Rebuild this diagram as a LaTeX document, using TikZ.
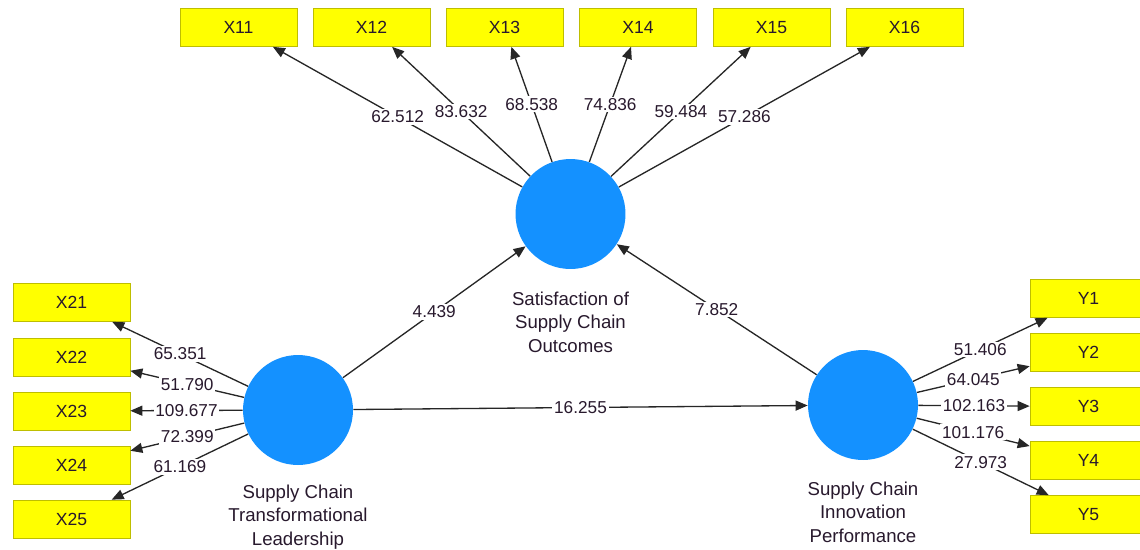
\documentclass[tikz,border=0pt]{standalone}
\usepackage{fontspec}
\setmainfont{Liberation Sans}
\usetikzlibrary{arrows.meta}
\definecolor{lvblue}{RGB}{20,145,255}
\definecolor{mvyellow}{RGB}{255,255,0}
\definecolor{mvedge}{RGB}{190,190,0}
\definecolor{txt}{RGB}{40,25,45}
\tikzset{
  lv/.style={circle, fill=lvblue, minimum size=2.2cm, inner sep=0pt},
  mv/.style={draw=mvedge, fill=mvyellow, minimum width=2.34cm, minimum height=0.76cm, inner sep=0pt, text=txt, font=\fontsize{10}{12}\selectfont},
  load/.style={draw=black!85, line width=0.75pt, -{Triangle[length=0.24cm,width=0.2cm]}},
  num/.style={fill=white, inner sep=1pt, text=txt, font=\fontsize{9.8}{12}\selectfont},
  lvname/.style={align=center, text=txt, font=\fontsize{10.6}{13.4}\selectfont}
}
\begin{document}
\begin{tikzpicture}[x=0.02cm, y=-0.02cm]
\clip (0,0) rectangle (1140,549);
\fill[white] (0,0) rectangle (1140,549);

% latent variables
\node[lv] (sat) at (570.5,214) {};
\node[lvname] (satname) at (570.5,322) {Satisfaction of\\Supply Chain\\Outcomes};
\node[lv] (lead) at (298,410) {};
\node[lvname] (leadname) at (298,517) {Supply Chain\\Transformational\\Leadership};
\node[lv] (innov) at (863,405) {};
\node[lvname] (innovname) at (863,512) {Supply Chain\\Innovation\\Performance};

% indicators
\node[mv] (x11) at (238.5,27.5) {X11};
\node[mv] (x12) at (371.5,27.5) {X12};
\node[mv] (x13) at (504.5,27.5) {X13};
\node[mv] (x14) at (638,27.5) {X14};
\node[mv] (x15) at (771.5,27.5) {X15};
\node[mv] (x16) at (904.5,27.5) {X16};

\node[mv] (x21) at (71.5,302.5) {X21};
\node[mv] (x22) at (71.5,357) {X22};
\node[mv] (x23) at (71.5,411) {X23};
\node[mv] (x24) at (71.5,465) {X24};
\node[mv] (x25) at (71.5,519) {X25};

\node[mv] (y1) at (1088.5,298.5) {Y1};
\node[mv] (y2) at (1088.5,352.5) {Y2};
\node[mv] (y3) at (1088.5,406.5) {Y3};
\node[mv] (y4) at (1088.5,460.5) {Y4};
\node[mv] (y5) at (1088.5,514.5) {Y5};

% loadings
\draw[load] (sat) -- node[num] {62.512} (x11);
\draw[load] (sat) -- node[num] {83.632} (x12);
\draw[load] (sat) -- node[num] {68.538} (x13);
\draw[load] (sat) -- node[num] {74.836} (x14);
\draw[load] (sat) -- node[num] {59.484} (x15);
\draw[load] (sat) -- node[num] {57.286} (x16);

\draw[load] (lead) -- node[num] {65.351} (x21);
\draw[load] (lead) -- node[num] {51.790} (x22);
\draw[load] (lead) -- node[num] {109.677} (x23);
\draw[load] (lead) -- node[num] {72.399} (x24);
\draw[load] (lead) -- node[num] {61.169} (x25);

\draw[load] (innov) -- node[num] {51.406} (y1);
\draw[load] (innov) -- node[num] {64.045} (y2);
\draw[load] (innov) -- node[num] {102.163} (y3);
\draw[load] (innov) -- node[num] {101.176} (y4);
\draw[load] (innov) -- node[num] {27.973} (y5);

% paths
\draw[load] (lead) -- node[num] {4.439} (sat);
\draw[load] (innov) -- node[num] {7.852} (sat);
\draw[load] (lead) -- node[num] {16.255} (innov);
\end{tikzpicture}
\end{document}
